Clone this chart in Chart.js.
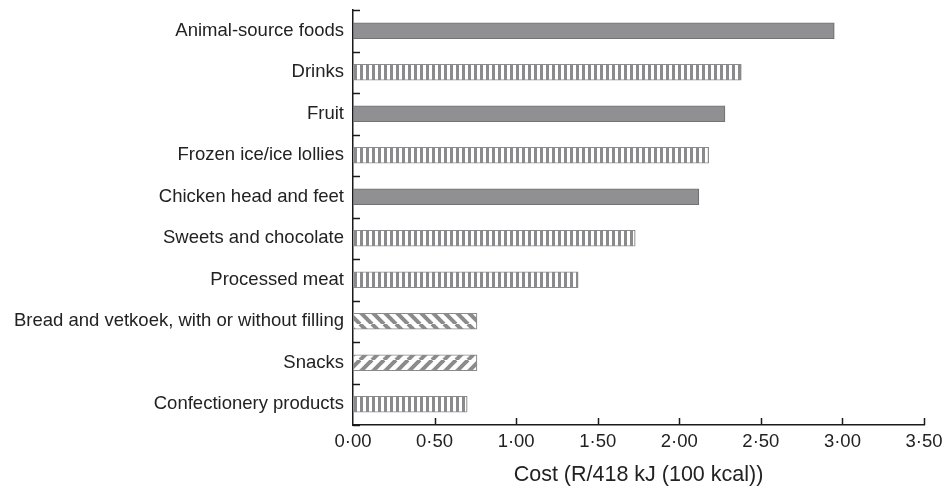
<!DOCTYPE html>
<html>
<head>
<meta charset="utf-8">
<script src="https://cdn.jsdelivr.net/npm/chart.js@4.4.0/dist/chart.umd.min.js"></script>
<style>
  body { margin: 0; background: #fff; }
  canvas { display: block; }
</style>
</head>
<body>
<canvas id="myChart" width="943" height="486"></canvas>
<script>
const categories = [
  "Animal-source foods",
  "Drinks",
  "Fruit",
  "Frozen ice/ice lollies",
  "Chicken head and feet",
  "Sweets and chocolate",
  "Processed meat",
  "Bread and vetkoek, with or without filling",
  "Snacks",
  "Confectionery products",
];
const costs = [2.95, 2.38, 2.28, 2.18, 2.12, 1.73, 1.38, 0.76, 0.76, 0.70];
const xTicks = [0, 0.5, 1, 1.5, 2, 2.5, 3, 3.5];
const xTitle = "Cost (R/418 kJ (100 kcal))";

// fill kind for each bar (solid, vertical stripes, diagonal hatches)
const fillKinds = ["solid", "vstripe", "solid", "vstripe", "solid", "vstripe", "vstripe", "back", "fwd", "vstripe"];

const gray = "#8b8b8d";
const font = "'Liberation Sans', Arial, Helvetica, sans-serif";

const makeFill = (kind) => {
  if (kind === "solid") return "#909092";
  const c = document.createElement("canvas");
  const g = c.getContext("2d");
  if (kind === "vstripe") {
    c.width = 6;
    c.height = 6;
    g.fillStyle = "#fff";
    g.fillRect(0, 0, 6, 6);
    g.fillStyle = gray;
    g.fillRect(0, 0, 3, 6);
  } else {
    c.width = 12;
    c.height = 12;
    g.fillStyle = "#fff";
    g.fillRect(0, 0, 12, 12);
    g.strokeStyle = gray;
    g.lineWidth = 4;
    for (let k = -1; k <= 1; k++) {
      g.beginPath();
      if (kind === "fwd") {
        g.moveTo(k * 12, 12);
        g.lineTo(k * 12 + 12, 0);
      } else {
        g.moveTo(k * 12, 0);
        g.lineTo(k * 12 + 12, 12);
      }
      g.stroke();
    }
  }
  return g.createPattern(c, "repeat");
};

// tick marks pointing into the plot
const innerTicks = {
  id: "innerTicks",
  afterDraw(chart) {
    const { ctx, scales: { x, y } } = chart;
    ctx.save();
    ctx.strokeStyle = "#1a1a1a";
    ctx.lineWidth = 1.5;
    xTicks.forEach((v) => {
      if (v === 0) return;
      const px = Math.round(x.getPixelForValue(v)) + 0.5;
      ctx.beginPath();
      ctx.moveTo(px, y.bottom);
      ctx.lineTo(px, y.bottom - 7);
      ctx.stroke();
    });
    for (let i = 0; i <= categories.length; i++) {
      const py = Math.round(y.getPixelForValue(i - 0.5)) + 0.5;
      ctx.beginPath();
      ctx.moveTo(x.left, py);
      ctx.lineTo(x.left + 7, py);
      ctx.stroke();
    }
    ctx.restore();
  },
};

const ctx = document.getElementById("myChart").getContext("2d");

new Chart(ctx, {
  type: "bar",
  data: {
    labels: categories,
    datasets: [
      {
        data: costs,
        backgroundColor: fillKinds.map(makeFill),
        borderColor: fillKinds.map((k) => (k === "solid" ? "#727274" : "#8a8a8a")),
        borderWidth: 1.2,
        borderSkipped: false,
        barThickness: 16,
      },
    ],
  },
  options: {
    indexAxis: "y",
    responsive: false,
    animation: false,
    layout: { padding: { top: 10, right: 19, bottom: 0, left: 0 } },
    plugins: { legend: { display: false }, tooltip: { enabled: false } },
    scales: {
      x: {
        type: "linear",
        min: 0,
        max: 3.5,
        afterBuildTicks: (s) => {
          s.ticks = xTicks.map((v) => ({ value: v }));
        },
        afterFit: (s) => {
          s.height = 61;
          s.paddingLeft = 0;
          s.paddingRight = 0;
        },
        grid: { display: false, drawTicks: false },
        border: { display: true, color: "#1a1a1a", width: 1.5 },
        ticks: {
          padding: 6,
          color: "#222",
          font: { family: font, size: 18.5 },
          callback: (v) => Number(v).toFixed(2).replace(".", "\u00b7"),
        },
        title: {
          display: true,
          text: xTitle,
          color: "#222",
          font: { family: font, size: 21.5, lineHeight: 1 },
          padding: 0,
        },
      },
      y: {
        afterFit: (s) => {
          s.width = 353;
          s.paddingTop = 0;
          s.paddingBottom = 0;
        },
        grid: { display: false, drawTicks: false },
        border: { display: true, color: "#1a1a1a", width: 1.5 },
        ticks: {
          padding: 9,
          color: "#222",
          font: { family: font, size: 18.5 },
        },
      },
    },
  },
  plugins: [innerTicks],
});
</script>
</body>
</html>
